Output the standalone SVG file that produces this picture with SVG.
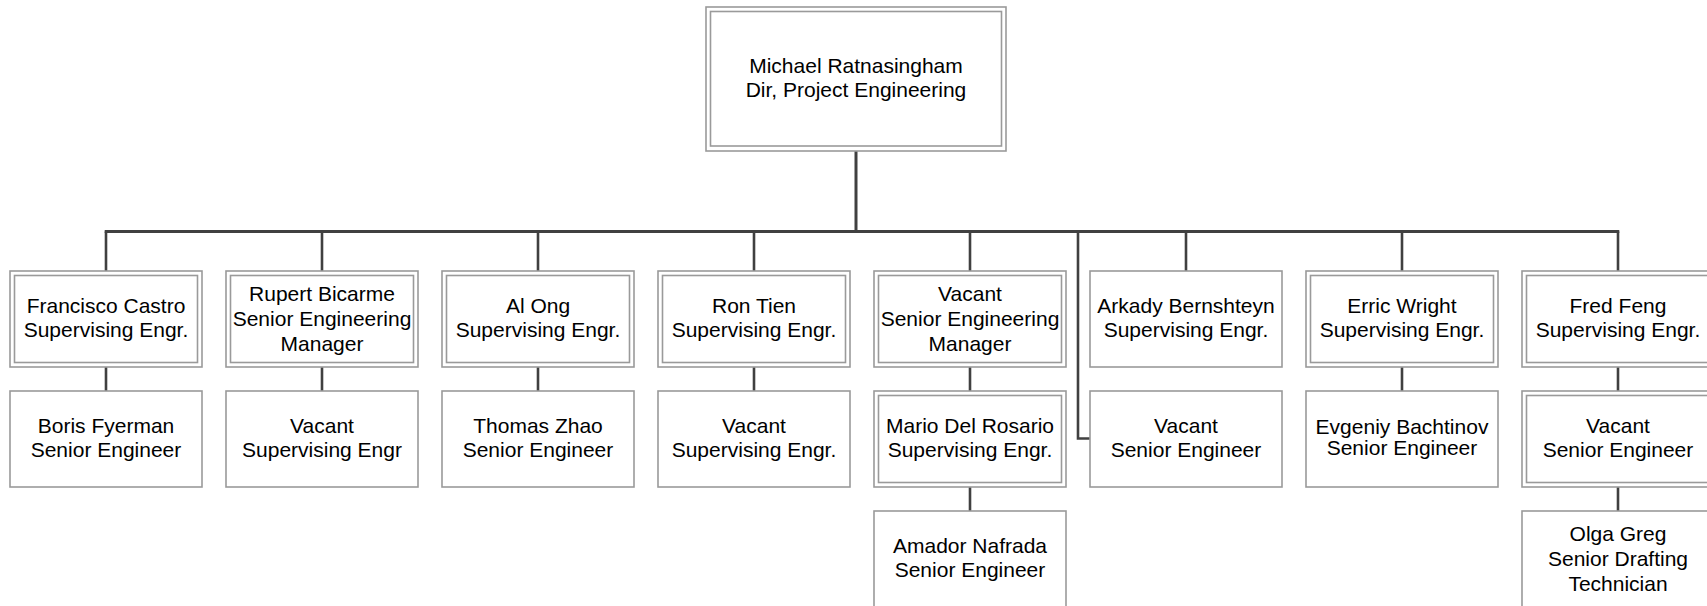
<svg xmlns="http://www.w3.org/2000/svg" width="1707" height="606" viewBox="0 0 1707 606">
<style>
.bx{fill:#fff;stroke:#9a9a9a;stroke-width:1.6}
.in{fill:none;stroke:#9a9a9a;stroke-width:1.6}
.t{font-family:"Liberation Sans",Arial,sans-serif;font-size:21px;fill:#000;text-anchor:middle}
.c{fill:none;stroke:#404040;stroke-width:2.6}
.cb{fill:none;stroke:#404040;stroke-width:3}
</style>
<rect x="0" y="0" width="1707" height="606" fill="#fff"/>
<g id="connectors">
<line class="cb" x1="856" y1="151" x2="856" y2="231.5"/>
<line class="cb" x1="104.7" y1="231.5" x2="1619.3" y2="231.5"/>
<line class="c" x1="106" y1="231.5" x2="106" y2="271"/>
<line class="c" x1="322" y1="231.5" x2="322" y2="271"/>
<line class="c" x1="538" y1="231.5" x2="538" y2="271"/>
<line class="c" x1="754" y1="231.5" x2="754" y2="271"/>
<line class="c" x1="970" y1="231.5" x2="970" y2="271"/>
<line class="c" x1="1186" y1="231.5" x2="1186" y2="271"/>
<line class="c" x1="1402" y1="231.5" x2="1402" y2="271"/>
<line class="c" x1="1618" y1="231.5" x2="1618" y2="271"/>
<line class="c" x1="106" y1="367" x2="106" y2="391"/>
<line class="c" x1="322" y1="367" x2="322" y2="391"/>
<line class="c" x1="538" y1="367" x2="538" y2="391"/>
<line class="c" x1="754" y1="367" x2="754" y2="391"/>
<line class="c" x1="970" y1="367" x2="970" y2="391"/>
<line class="c" x1="1402" y1="367" x2="1402" y2="391"/>
<line class="c" x1="1618" y1="367" x2="1618" y2="391"/>
<polyline class="c" points="1078,231.5 1078,438.5 1090,438.5"/>
<line class="c" x1="970" y1="487" x2="970" y2="511"/>
<line class="c" x1="1618" y1="487" x2="1618" y2="511"/>
</g>
<g id="n-michael">
<rect class="bx" x="706" y="7" width="300" height="144"/>
<rect class="in" x="710.5" y="11.5" width="291" height="134.5"/>
<text class="t" x="856" y="73">Michael Ratnasingham</text>
<text class="t" x="856" y="97">Dir, Project Engineering</text>
</g>
<g id="n-francisco">
<rect class="bx" x="10" y="271" width="192" height="96"/>
<rect class="in" x="14.5" y="275.5" width="183" height="87"/>
<text class="t" x="106" y="313">Francisco Castro</text>
<text class="t" x="106" y="337">Supervising Engr.</text>
</g>
<g id="n-rupert">
<rect class="bx" x="226" y="271" width="192" height="96"/>
<rect class="in" x="230.5" y="275.5" width="183" height="87"/>
<text class="t" x="322" y="301">Rupert Bicarme</text>
<text class="t" x="322" y="326">Senior Engineering</text>
<text class="t" x="322" y="351">Manager</text>
</g>
<g id="n-along">
<rect class="bx" x="442" y="271" width="192" height="96"/>
<rect class="in" x="446.5" y="275.5" width="183" height="87"/>
<text class="t" x="538" y="313">Al Ong</text>
<text class="t" x="538" y="337">Supervising Engr.</text>
</g>
<g id="n-rontien">
<rect class="bx" x="658" y="271" width="192" height="96"/>
<rect class="in" x="662.5" y="275.5" width="183" height="87"/>
<text class="t" x="754" y="313">Ron Tien</text>
<text class="t" x="754" y="337">Supervising Engr.</text>
</g>
<g id="n-vacant-sem">
<rect class="bx" x="874" y="271" width="192" height="96"/>
<rect class="in" x="878.5" y="275.5" width="183" height="87"/>
<text class="t" x="970" y="301">Vacant</text>
<text class="t" x="970" y="326">Senior Engineering</text>
<text class="t" x="970" y="351">Manager</text>
</g>
<g id="n-arkady">
<rect class="bx" x="1090" y="271" width="192" height="96"/>
<text class="t" x="1186" y="313">Arkady Bernshteyn</text>
<text class="t" x="1186" y="337">Supervising Engr.</text>
</g>
<g id="n-erric">
<rect class="bx" x="1306" y="271" width="192" height="96"/>
<rect class="in" x="1310.5" y="275.5" width="183" height="87"/>
<text class="t" x="1402" y="313">Erric Wright</text>
<text class="t" x="1402" y="337">Supervising Engr.</text>
</g>
<g id="n-fred">
<rect class="bx" x="1522" y="271" width="192" height="96"/>
<rect class="in" x="1526.5" y="275.5" width="183" height="87"/>
<text class="t" x="1618" y="313">Fred Feng</text>
<text class="t" x="1618" y="337">Supervising Engr.</text>
</g>
<g id="n-boris">
<rect class="bx" x="10" y="391" width="192" height="96"/>
<text class="t" x="106" y="433">Boris Fyerman</text>
<text class="t" x="106" y="457">Senior Engineer</text>
</g>
<g id="n-vacant-se1">
<rect class="bx" x="226" y="391" width="192" height="96"/>
<text class="t" x="322" y="433">Vacant</text>
<text class="t" x="322" y="457">Supervising Engr</text>
</g>
<g id="n-thomas">
<rect class="bx" x="442" y="391" width="192" height="96"/>
<text class="t" x="538" y="433">Thomas Zhao</text>
<text class="t" x="538" y="457">Senior Engineer</text>
</g>
<g id="n-vacant-se2">
<rect class="bx" x="658" y="391" width="192" height="96"/>
<text class="t" x="754" y="433">Vacant</text>
<text class="t" x="754" y="457">Supervising Engr.</text>
</g>
<g id="n-mario">
<rect class="bx" x="874" y="391" width="192" height="96"/>
<rect class="in" x="878.5" y="395.5" width="183" height="87"/>
<text class="t" x="970" y="433">Mario Del Rosario</text>
<text class="t" x="970" y="457">Supervising Engr.</text>
</g>
<g id="n-vacant-se3">
<rect class="bx" x="1090" y="391" width="192" height="96"/>
<text class="t" x="1186" y="433">Vacant</text>
<text class="t" x="1186" y="457">Senior Engineer</text>
</g>
<g id="n-evgeniy">
<rect class="bx" x="1306" y="391" width="192" height="96"/>
<text class="t" x="1402" y="434">Evgeniy Bachtinov</text>
<text class="t" x="1402" y="455">Senior Engineer</text>
</g>
<g id="n-vacant-se4">
<rect class="bx" x="1522" y="391" width="192" height="96"/>
<rect class="in" x="1526.5" y="395.5" width="183" height="87"/>
<text class="t" x="1618" y="433">Vacant</text>
<text class="t" x="1618" y="457">Senior Engineer</text>
</g>
<g id="n-amador">
<rect class="bx" x="874" y="511" width="192" height="96"/>
<text class="t" x="970" y="553">Amador Nafrada</text>
<text class="t" x="970" y="577">Senior Engineer</text>
</g>
<g id="n-olga">
<rect class="bx" x="1522" y="511" width="192" height="96"/>
<text class="t" x="1618" y="541">Olga Greg</text>
<text class="t" x="1618" y="566">Senior Drafting</text>
<text class="t" x="1618" y="591">Technician</text>
</g>
</svg>
